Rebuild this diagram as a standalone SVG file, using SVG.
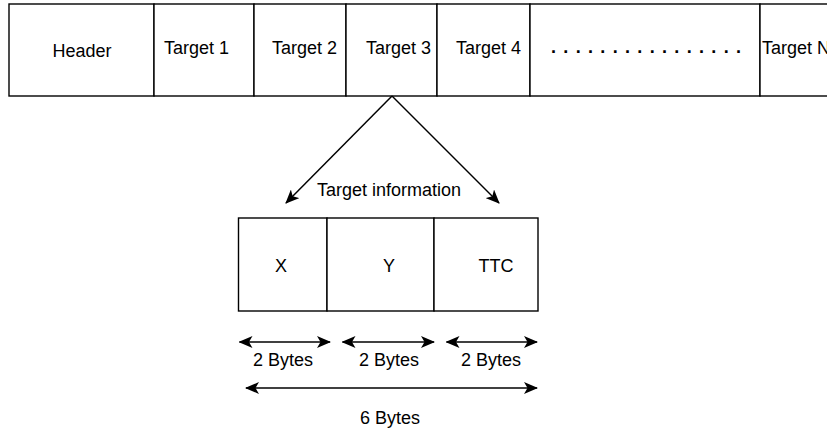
<svg xmlns="http://www.w3.org/2000/svg" width="827" height="432" viewBox="0 0 827 432">
  <style>
    .box { fill: #ffffff; stroke: #000000; stroke-width: 1.4; }
    .lbl { font-family: "Liberation Sans", Arial, sans-serif; font-size: 18px; fill: #000000; text-anchor: middle; }
    .lbl-s { font-family: "Liberation Sans", Arial, sans-serif; font-size: 18px; fill: #000000; }
    .dots { font-family: "Liberation Sans", Arial, sans-serif; font-size: 18px; font-weight: bold; fill: #000000; }
    .edge { fill: none; stroke: #000000; stroke-width: 1.5; }
  </style>
  <defs>
    <marker id="arrow" viewBox="0 0 14 12" refX="13" refY="6" markerWidth="14" markerHeight="12" markerUnits="userSpaceOnUse" orient="auto-start-reverse">
      <path d="M0,0 L14,6 L0,12 L3.5,6 Z" fill="#000000"/>
    </marker>
  </defs>
  <rect width="827" height="432" fill="#ffffff"/>

  <!-- frame row -->
  <g id="header"><rect class="box" x="9" y="4" width="145" height="92"/><text class="lbl" x="82" y="57">Header</text></g>
  <g id="target1"><rect class="box" x="154" y="4" width="100" height="92"/><text class="lbl-s" x="164" y="54">Target 1</text></g>
  <g id="target2"><rect class="box" x="254" y="4" width="92" height="92"/><text class="lbl-s" x="272" y="54">Target 2</text></g>
  <g id="target3"><rect class="box" x="346" y="4" width="91" height="92"/><text class="lbl-s" x="366" y="54">Target 3</text></g>
  <g id="target4"><rect class="box" x="437" y="4" width="93" height="92"/><text class="lbl-s" x="456" y="54">Target 4</text></g>
  <g id="ellipsis"><rect class="box" x="530" y="4" width="230" height="92"/><text class="dots" x="551" y="53" textLength="190" lengthAdjust="spacing">. . . . . . . . . . . . . . . .</text></g>
  <g id="targetN"><rect class="box" x="760" y="4" width="80" height="92"/><text class="lbl-s" x="762" y="54">Target N</text></g>

  <!-- target information record -->
  <g id="field-x"><rect class="box" x="238.5" y="218" width="88.5" height="93"/><text class="lbl" x="281" y="272">X</text></g>
  <g id="field-y"><rect class="box" x="327" y="218" width="107" height="93"/><text class="lbl" x="389" y="272">Y</text></g>
  <g id="field-ttc"><rect class="box" x="434" y="218" width="104" height="93"/><text class="lbl" x="496" y="272">TTC</text></g>

  <g id="connectors">
    <line class="edge" x1="392" y1="96" x2="286" y2="203" marker-end="url(#arrow)"/>
    <line class="edge" x1="392" y1="96" x2="499" y2="203" marker-end="url(#arrow)"/>
    <line class="edge" x1="239.5" y1="342" x2="330" y2="342" marker-start="url(#arrow)" marker-end="url(#arrow)"/>
    <line class="edge" x1="342.5" y1="342" x2="434" y2="342" marker-start="url(#arrow)" marker-end="url(#arrow)"/>
    <line class="edge" x1="446.5" y1="342" x2="537" y2="342" marker-start="url(#arrow)" marker-end="url(#arrow)"/>
    <line class="edge" x1="246" y1="388" x2="537" y2="388" marker-start="url(#arrow)" marker-end="url(#arrow)"/>
  </g>

  <g id="labels">
    <text class="lbl" x="389" y="196">Target information</text>
    <text class="lbl" x="283" y="365.5">2 Bytes</text>
    <text class="lbl" x="389" y="365.5">2 Bytes</text>
    <text class="lbl" x="491" y="365.5">2 Bytes</text>
    <text class="lbl" x="390" y="424">6 Bytes</text>
  </g>
</svg>
